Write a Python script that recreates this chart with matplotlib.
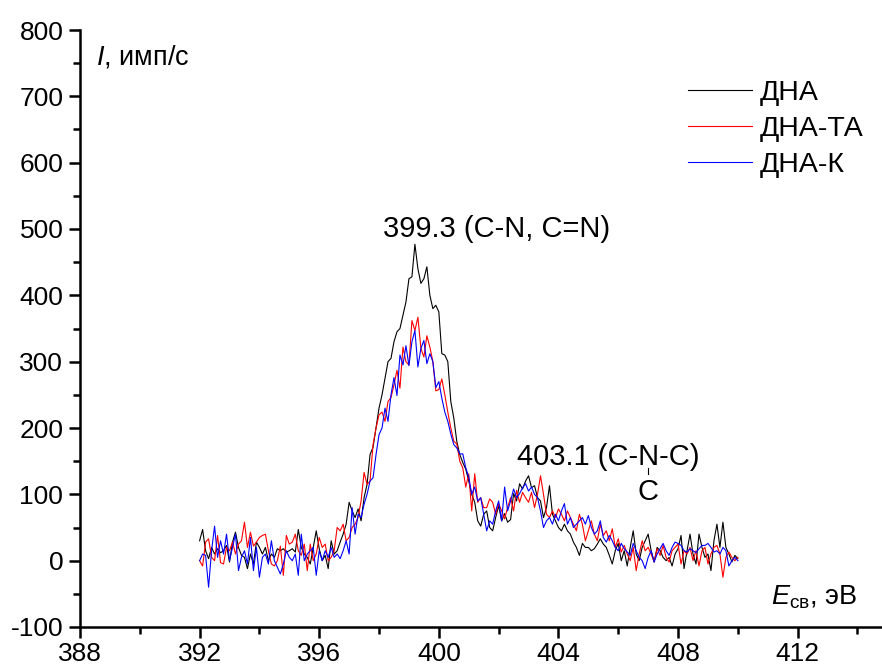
import numpy as np
import matplotlib
matplotlib.use("Agg")
import matplotlib.pyplot as plt
from matplotlib.ticker import MultipleLocator

plt.rcParams['font.family'] = ['Liberation Sans', 'DejaVu Sans']
plt.rcParams['mathtext.fontset'] = 'custom'
plt.rcParams['mathtext.rm'] = 'Liberation Sans'
plt.rcParams['mathtext.it'] = 'Liberation Sans:italic'
plt.rcParams['axes.unicode_minus'] = False

# -------------------------
# Data: binding energy 392.0 ... 410.0 eV, step 0.1 eV
# -------------------------
e_start, e_step = 392.0, 0.1

dna = [
    30, 47, 15, 3, 20, 10, 18, 12, 15, 23,          # 392
    -2, 28, 43, 20, 8, 5, -12, 10, -5, 28,          # 393
    20, 10, 20, 0, 10, 5, 18, 15, 18, 13,           # 394
    15, 18, 13, 47, 20, 10, 5, -5, 20, 45,          # 395
    18, 0, 8, -12, 30, 10, 15, 28, 40, 55,          # 396
    88, 75, 65, 78, 60, 95, 115, 160, 171, 200,     # 397
    230, 250, 275, 300, 305, 330, 345, 350, 370, 390,  # 398
    425, 428, 477, 440, 418, 425, 443, 400, 380, 385,  # 399
    375, 312, 310, 300, 240, 215, 180, 160, 148, 138,  # 400
    120, 100, 88, 60, 52, 70, 75, 50, 45, 65,       # 401
    83, 60, 71, 58, 62, 101, 90, 116, 108, 120,     # 402
    128, 110, 113, 95, 90, 65, 80, 113, 70, 60,     # 403
    50, 45, 55, 45, 40, 28, 20, 8, 26, 20,          # 404
    20, 15, 18, 25, 33, 25, 20, 8, -5, 15,          # 405
    26, 0, 15, -8, 20, 45, 10, 0, 20, 30,           # 406
    40, 15, -2, 20, 15, 5, 0, 5, -8, 10,            # 407
    18, 38, -12, 15, 40, 10, -5, 40, 20, 5,         # 408
    10, -15, 30, 55, 20, 58, 20, 10, -2, 8,         # 409
    3,                                              # 410
]

dna_ta = [
    0, -8, 28, 33, 5, 0, 38, -3, -5, 20,            # 392
    15, 28, 10, 25, 30, 58, 20, 43, 22, 28,         # 393
    35, 38, 40, 15, -5, -8, 0, 22, -22, 38,         # 394
    25, 28, 40, 15, 8, 25, -15, 25, 0, 10,          # 395
    35, 20, 25, 0, 5, 15, 50, 45, 55, 30,           # 396
    35, 50, 55, 65, 90, 133, 115, 120, 175, 200,    # 397
    220, 224, 210, 240, 246, 265, 287, 260, 322, 300,  # 398
    295, 362, 347, 367, 320, 307, 339, 322, 300, 256,  # 399
    258, 274, 250, 224, 200, 180, 176, 150, 140, 111,  # 400
    131, 75, 131, 88, 95, 80, 80, 93, 88, 70,       # 401
    86, 75, 63, 80, 95, 75, 106, 88, 103, 95,       # 402
    88, 103, 80, 100, 128, 100, 70, 65, 75, 65,     # 403
    78, 70, 60, 75, 65, 55, 45, 70, 55, 30,         # 404
    45, 60, 40, 30, 55, 38, 45, 30, 48, 20,         # 405
    33, 13, 23, 10, 0, 20, -15, 10, 30, 15,         # 406
    20, 10, -2, 18, 8, 23, 5, -2, 15, 20,           # 407
    25, -5, 15, 10, 20, 0, 15, -8, 15, 20,          # 408
    -5, 10, 20, 23, 10, -25, 5, 13, 5, 0,           # 409
    5,                                              # 410
]

dna_k = [
    0, 10, 8, -40, 15, 52, 5, 30, 10, 40,           # 392
    0, 20, 40, -15, 5, 15, -5, 35, -15, 20,         # 393
    -25, 5, 10, -5, 30, 0, -10, -20, -5, 15,        # 394
    5, 0, 10, -22, 40, 0, 10, 15, 20, -22,          # 395
    15, 0, 15, 5, 20, 5, 10, 3, 15, 30,             # 396
    10, 80, 40, 70, 65, 85, 100, 120, 125, 160,     # 397
    190, 200, 230, 210, 250, 276, 249, 310, 295, 324,  # 398
    294, 330, 347, 292, 320, 332, 297, 312, 300, 261,  # 399
    270, 245, 224, 210, 191, 175, 170, 161, 161, 140,  # 400
    126, 100, 111, 90, 95, 70, 45, 60, 55, 75,      # 401
    90, 60, 111, 75, 90, 108, 95, 101, 110, 116,    # 402
    105, 111, 100, 95, 75, 50, 60, 65, 55, 70,      # 403
    60, 75, 86, 55, 65, 50, 55, 60, 65, 55,         # 404
    68, 50, 40, 45, 60, 35, 28, 38, 30, 20,         # 405
    15, 26, 18, 13, 8, 26, 15, 5, 0, -12,           # 406
    5, 15, -2, 10, 18, 26, 15, 8, 20, 28,           # 407
    26, 23, 15, 13, 18, 15, 12, 18, 23, 23,         # 408
    26, 20, 13, 15, 10, 20, 15, -8, 0, 5,           # 409
    0,                                              # 410
]

series = [
    ('ДНА', dna, 'black'),
    ('ДНА-ТА', dna_ta, 'red'),
    ('ДНА-К', dna_k, 'blue'),
]

# -------------------------
# Plotting
# -------------------------
fig = plt.figure(figsize=(8.82, 6.71), dpi=100)
ax = fig.add_axes([80 / 882, 44 / 671, 802 / 882, 597 / 671])

for label, vals, color in series:
    energy = e_start + e_step * np.arange(len(vals))
    ax.plot(energy, vals, color=color, lw=0.8, label=label)

ax.set_xlim(388, 414.82)
ax.set_ylim(-100, 800)

for side in ('top', 'right'):
    ax.spines[side].set_visible(False)
for side in ('left', 'bottom'):
    ax.spines[side].set_linewidth(1.8)

ax.xaxis.set_major_locator(MultipleLocator(4))
ax.xaxis.set_minor_locator(MultipleLocator(2))
ax.yaxis.set_major_locator(MultipleLocator(100))
ax.yaxis.set_minor_locator(MultipleLocator(50))
ax.tick_params(which='major', direction='out', length=8, width=1.8,
               labelsize=19, pad=3)
ax.tick_params(which='minor', direction='out', length=5, width=1.8)
ax.tick_params(axis='y', pad=4)

# axis captions inside the plot area
ax.text(388.55, 759, r'$\it{I}$, имп/с', fontsize=19.5, va='center',
        ha='left')
ax.text(411.1, -55, r'$\it{E}_{\rm св}$, эВ', fontsize=19.5, va='center',
        ha='left')

# peak annotations
ax.text(401.92, 500, '399.3 (C-N, C=N)', fontsize=21, ha='center',
        va='center')
ax.text(405.66, 156, '403.1 (C-N-C)', fontsize=21, ha='center', va='center')
ax.text(407.0, 104, 'C', fontsize=21, ha='center', va='center')
ax.plot([407.0, 407.0], [131, 140], color='black', lw=0.8)

ax.legend(loc='upper left', bbox_to_anchor=(0.744, 0.935), frameon=False,
          fontsize=20.5, handlelength=2.25, handletextpad=0.28,
          labelspacing=0.34, borderaxespad=0)

fig.savefig('out.png', dpi=100)
